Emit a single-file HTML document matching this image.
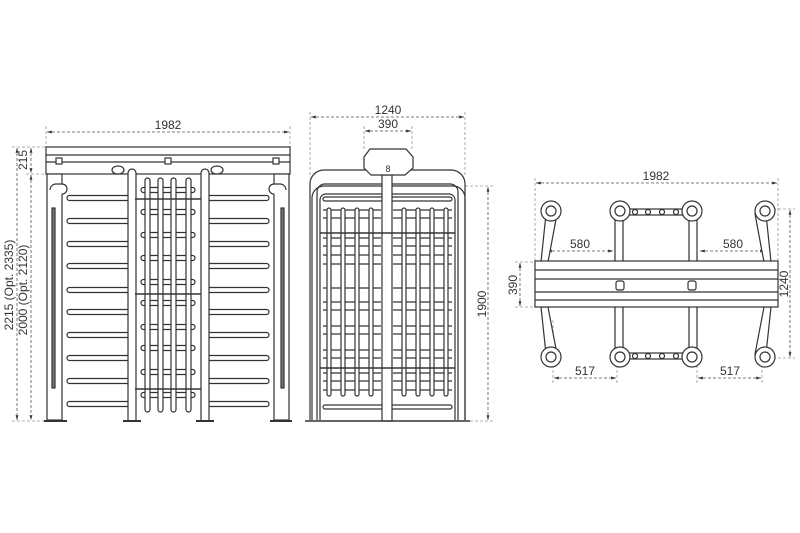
<!DOCTYPE html>
<html><head><meta charset="utf-8"><style>
html,body{margin:0;padding:0;background:#fff;}
svg{display:block;}
text{font-family:"Liberation Sans",sans-serif;font-size:12px;fill:#333;}
</style></head><body>
<svg width="800" height="533" viewBox="0 0 800 533" xmlns="http://www.w3.org/2000/svg">
<defs>
<marker id="a" viewBox="0 0 10 10" refX="10" refY="5" markerWidth="6" markerHeight="6" orient="auto-start-reverse"><path d="M0,2 L10,5 L0,8z" fill="#333"/></marker>
</defs>
<g fill="none" stroke="#999" stroke-width="0.8" stroke-dasharray="3,2">
<line x1="46" y1="126" x2="46" y2="147"/><line x1="290" y1="126" x2="290" y2="147"/>
<line x1="12" y1="147" x2="46" y2="147"/><line x1="26" y1="174" x2="46" y2="174"/>
<line x1="12" y1="421" x2="46" y2="421"/>
<line x1="310" y1="112" x2="310" y2="175"/><line x1="465" y1="112" x2="465" y2="175"/>
<line x1="364" y1="126" x2="364" y2="150"/><line x1="412" y1="126" x2="412" y2="150"/>
<line x1="465" y1="186" x2="493" y2="186"/><line x1="465" y1="421" x2="493" y2="421"/>
<line x1="535" y1="178" x2="535" y2="262"/><line x1="778" y1="178" x2="778" y2="262"/>
<line x1="515" y1="262" x2="535" y2="262"/><line x1="515" y1="307" x2="535" y2="307"/>
<line x1="768" y1="209" x2="795" y2="209"/><line x1="768" y1="358" x2="795" y2="358"/>
<line x1="545" y1="245" x2="545" y2="300"/><line x1="767" y1="245" x2="767" y2="300"/>
<line x1="553" y1="320" x2="553" y2="383"/><line x1="617" y1="320" x2="617" y2="383"/>
<line x1="697" y1="320" x2="697" y2="383"/><line x1="762" y1="320" x2="762" y2="383"/>
<line x1="620" y1="262" x2="620" y2="307"/><line x1="692" y1="262" x2="692" y2="307"/>
<line x1="568" y1="284" x2="760" y2="284"/><line x1="568" y1="289" x2="760" y2="289"/>
</g>
<g stroke="#555" stroke-width="0.8" stroke-dasharray="3,2" marker-start="url(#a)" marker-end="url(#a)">
<line x1="47" y1="132" x2="289" y2="132"/>
<line x1="17" y1="148" x2="17" y2="420"/>
<line x1="31" y1="148" x2="31" y2="173"/>
<line x1="31" y1="175" x2="31" y2="420"/>
<line x1="311" y1="117" x2="464" y2="117"/>
<line x1="365" y1="131" x2="411" y2="131"/>
<line x1="488" y1="187" x2="488" y2="420"/>
<line x1="536" y1="183" x2="777" y2="183"/>
<line x1="790" y1="210" x2="790" y2="357"/>
<line x1="520" y1="263" x2="520" y2="306"/>
<line x1="547" y1="251" x2="613" y2="251"/>
<line x1="700" y1="251" x2="765" y2="251"/>
<line x1="554" y1="378" x2="616" y2="378"/>
<line x1="698" y1="378" x2="761" y2="378"/>
</g>
<g>
<text x="168" y="129" text-anchor="middle">1982</text>
<text x="388" y="114" text-anchor="middle">1240</text>
<text x="388" y="128" text-anchor="middle">390</text>
<text x="656" y="180" text-anchor="middle">1982</text>
<text x="580" y="248" text-anchor="middle">580</text>
<text x="733" y="248" text-anchor="middle">580</text>
<text x="585" y="375" text-anchor="middle">517</text>
<text x="730" y="375" text-anchor="middle">517</text>
<text transform="translate(13,285) rotate(-90)" text-anchor="middle">2215 (Opt. 2335)</text>
<text transform="translate(27,290) rotate(-90)" text-anchor="middle">2000 (Opt. 2120)</text>
<text transform="translate(27,160) rotate(-90)" text-anchor="middle">215</text>
<text transform="translate(486,304) rotate(-90)" text-anchor="middle">1900</text>
<text transform="translate(788,284) rotate(-90)" text-anchor="middle">1240</text>
<text transform="translate(517,285) rotate(-90)" text-anchor="middle">390</text>
</g>
<g fill="#fff" stroke="#333" stroke-width="1.2">
<rect x="46" y="147" width="244" height="27"/>
<line x1="46" y1="155" x2="290" y2="155"/><line x1="46" y1="162" x2="290" y2="162"/>
<rect x="56" y="158" width="6" height="6"/><rect x="165" y="158" width="6" height="6"/><rect x="273" y="158" width="6" height="6"/>
<ellipse cx="118" cy="170" rx="6" ry="4"/><ellipse cx="217" cy="170" rx="6" ry="4"/>
<rect x="47" y="174" width="15" height="246"/>
<rect x="274" y="174" width="15" height="246"/>
<path d="M50,190 a6,6 0 0 1 6,-6 h6 a5,5 0 0 1 0,10 v0" />
<path d="M286,190 a6,6 0 0 0 -6,-6 h-6 a5,5 0 0 0 0,10" />
<rect x="52" y="208" width="3" height="180" fill="#777"/>
<rect x="281" y="208" width="3" height="180" fill="#777"/>
<rect x="67" y="195.5" width="68" height="5" rx="2.5"/><rect x="67" y="218.5" width="68" height="5" rx="2.5"/>
<rect x="67" y="241.5" width="68" height="5" rx="2.5"/><rect x="67" y="263.5" width="68" height="5" rx="2.5"/>
<rect x="67" y="287.5" width="68" height="5" rx="2.5"/><rect x="67" y="309.5" width="68" height="5" rx="2.5"/>
<rect x="67" y="332.5" width="68" height="5" rx="2.5"/><rect x="67" y="355.5" width="68" height="5" rx="2.5"/>
<rect x="67" y="378.5" width="68" height="5" rx="2.5"/><rect x="67" y="401.5" width="68" height="5" rx="2.5"/>
<rect x="201" y="195.5" width="68" height="5" rx="2.5"/><rect x="201" y="218.5" width="68" height="5" rx="2.5"/>
<rect x="201" y="241.5" width="68" height="5" rx="2.5"/><rect x="201" y="263.5" width="68" height="5" rx="2.5"/>
<rect x="201" y="287.5" width="68" height="5" rx="2.5"/><rect x="201" y="309.5" width="68" height="5" rx="2.5"/>
<rect x="201" y="332.5" width="68" height="5" rx="2.5"/><rect x="201" y="355.5" width="68" height="5" rx="2.5"/>
<rect x="201" y="378.5" width="68" height="5" rx="2.5"/><rect x="201" y="401.5" width="68" height="5" rx="2.5"/>
<rect x="141" y="187.5" width="54" height="5" rx="2.5"/><rect x="141" y="209.5" width="54" height="5" rx="2.5"/>
<rect x="141" y="232.5" width="54" height="5" rx="2.5"/><rect x="141" y="255.5" width="54" height="5" rx="2.5"/>
<rect x="141" y="279.5" width="54" height="5" rx="2.5"/><rect x="141" y="300.5" width="54" height="5" rx="2.5"/>
<rect x="141" y="324.5" width="54" height="5" rx="2.5"/><rect x="141" y="345.5" width="54" height="5" rx="2.5"/>
<rect x="141" y="369.5" width="54" height="5" rx="2.5"/><rect x="141" y="392.5" width="54" height="5" rx="2.5"/>
<rect x="145" y="178" width="5" height="234" rx="2.5"/><rect x="158" y="178" width="5" height="234" rx="2.5"/>
<rect x="171" y="178" width="5" height="234" rx="2.5"/><rect x="186" y="178" width="5" height="234" rx="2.5"/>
<path d="M128,420 V173 a4,4 0 0 1 8,0 V420"/>
<path d="M201,420 V173 a4,4 0 0 1 8,0 V420"/>
<line x1="44" y1="421" x2="67" y2="421" stroke-width="2"/><line x1="123" y1="421" x2="141" y2="421" stroke-width="2"/>
<line x1="196" y1="421" x2="214" y2="421" stroke-width="2"/><line x1="270" y1="421" x2="292" y2="421" stroke-width="2"/>
</g>
<g stroke="#333" stroke-width="1.6">
<line x1="135" y1="199" x2="201" y2="199"/><line x1="135" y1="294" x2="201" y2="294"/><line x1="135" y1="389" x2="201" y2="389"/>
</g>
<g fill="#fff" stroke="#333" stroke-width="1.2">
<path d="M310,420 V184 a14,14 0 0 1 14,-14 H451 a14,14 0 0 1 14,14 V420"/>
<path d="M317,420 V192 a8,8 0 0 1 8,-8 H450 a8,8 0 0 1 8,8 V420"/>
<path d="M312,420 V198 a12,12 0 0 1 12,-12 H453 a12,12 0 0 1 12,12 V420" fill="none"/>
<path d="M320,420 V200 a6,6 0 0 1 6,-6 H449 a6,6 0 0 1 6,6 V420" fill="none"/>
<rect x="323" y="197" width="129" height="4" rx="2"/>
<rect x="323" y="405" width="129" height="4" rx="2"/>
<g fill="none">
<path d="M323,210h58M323,218h58M323,238h58M323,246h58M323,255h58M323,264h58M323,288h58M323,302h58M323,310h58M323,326h58M323,334h58M323,350h58M323,358h58M323,373h58M323,381h58M323,390h58"/>
<path d="M393,210h59M393,218h59M393,238h59M393,246h59M393,255h59M393,264h59M393,288h59M393,302h59M393,310h59M393,326h59M393,334h59M393,350h59M393,358h59M393,373h59M393,381h59M393,390h59"/>
</g>
<rect x="327" y="208" width="4" height="188" rx="2"/><rect x="341" y="208" width="4" height="188" rx="2"/>
<rect x="355" y="208" width="4" height="188" rx="2"/><rect x="369" y="208" width="4" height="188" rx="2"/>
<rect x="402" y="208" width="4" height="188" rx="2"/><rect x="416" y="208" width="4" height="188" rx="2"/>
<rect x="430" y="208" width="4" height="188" rx="2"/><rect x="444" y="208" width="4" height="188" rx="2"/>
<rect x="382" y="175" width="10" height="246"/>
<path d="M370,149 H406 L413,157 V168 L405,175 H371 L364,168 V157 Z"/>
<text x="388" y="172" text-anchor="middle" style="font-size:9px" stroke="none" fill="#333">8</text>
<line x1="305" y1="421" x2="470" y2="421" stroke-width="1.5"/>
</g>
<g stroke="#333" stroke-width="1.6">
<line x1="320" y1="233" x2="455" y2="233"/><line x1="320" y1="368" x2="455" y2="368"/>
</g>
<g fill="#fff" stroke="#333" stroke-width="1.2">
<path d="M546,214 L557,214 L548,262 L541,262 Z"/>
<path d="M546,354 L557,354 L548,307 L541,307 Z"/>
<path d="M766,214 L755,214 L764,262 L771,262 Z"/>
<path d="M766,354 L755,354 L764,307 L771,307 Z"/>
<rect x="615" y="210" width="8" height="148"/>
<rect x="689" y="210" width="8" height="148"/>
<rect x="623" y="209" width="66" height="6"/>
<rect x="623" y="353" width="66" height="6"/>
<circle cx="635" cy="212" r="2.5"/><circle cx="648" cy="212" r="2.5"/><circle cx="662" cy="212" r="2.5"/><circle cx="676" cy="212" r="2.5"/>
<circle cx="635" cy="356" r="2.5"/><circle cx="648" cy="356" r="2.5"/><circle cx="662" cy="356" r="2.5"/><circle cx="676" cy="356" r="2.5"/>
<circle cx="551" cy="211" r="10"/><circle cx="551" cy="211" r="5"/>
<circle cx="620" cy="211" r="10"/><circle cx="620" cy="211" r="5"/>
<circle cx="692" cy="211" r="10"/><circle cx="692" cy="211" r="5"/>
<circle cx="765" cy="211" r="10"/><circle cx="765" cy="211" r="5"/>
<circle cx="551" cy="357" r="10"/><circle cx="551" cy="357" r="5"/>
<circle cx="620" cy="357" r="10"/><circle cx="620" cy="357" r="5"/>
<circle cx="692" cy="357" r="10"/><circle cx="692" cy="357" r="5"/>
<circle cx="765" cy="357" r="10"/><circle cx="765" cy="357" r="5"/>
<rect x="535" y="261" width="243" height="46"/>
<line x1="535" y1="270" x2="778" y2="270"/><line x1="535" y1="279" x2="778" y2="279"/>
<line x1="535" y1="292" x2="778" y2="292"/><line x1="535" y1="300" x2="778" y2="300"/>
<rect x="616" y="281" width="8" height="9" rx="2"/><rect x="688" y="281" width="8" height="9" rx="2"/>
</g>
</svg>
</body></html>
